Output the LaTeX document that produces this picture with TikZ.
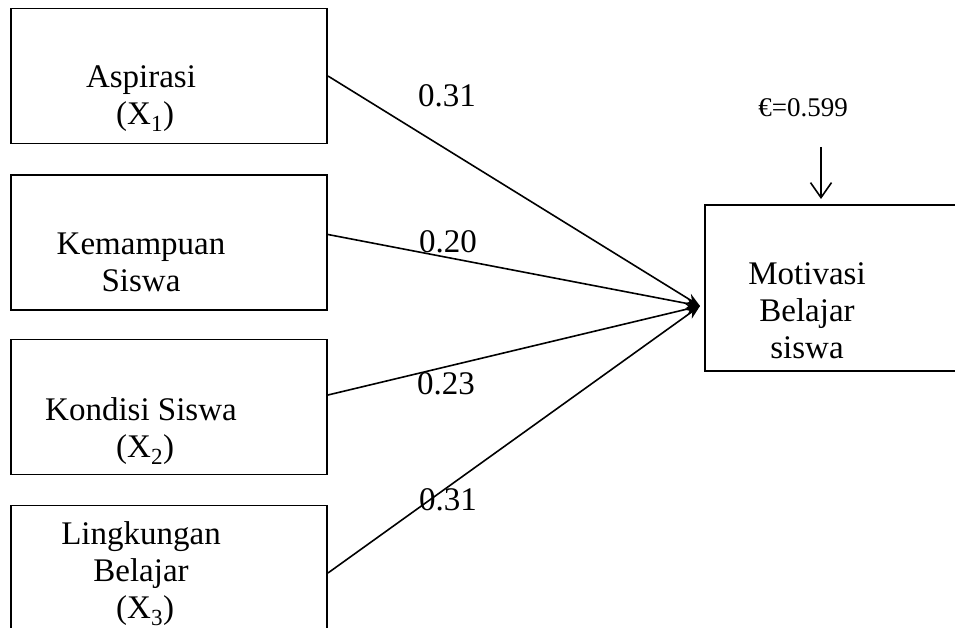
\documentclass[tikz,border=0pt]{standalone}
\usepackage{fontspec}
\setmainfont{Liberation Serif}
\usetikzlibrary{arrows.meta}

\begin{document}
\begin{tikzpicture}[x=1pt, y=-1pt,
        var/.style={draw, line width=1.9pt, minimum width=316pt, minimum height=135pt, inner sep=0pt},
        txt/.style={align=center, inner sep=0pt, font=\fontsize{33}{37}\selectfont},
        coef/.style={inner sep=0pt, font=\fontsize{33}{37}\selectfont},
        link/.style={line width=1.6pt, -{Stealth[length=14pt, width=11pt]}}]
            \useasboundingbox (0, 0) rectangle (955, 628);
            \clip (0, 0) rectangle (955, 628);
            %\draw[lightgray] (0, 0) grid[step=50] (955, 628);
            % boxes
            \node[var] (aspirasi) at (169, 76) {};
            \node[var] (kemampuan) at (169, 242.5) {};
            \node[var] (kondisi) at (169, 407) {};
            \node[var] (lingkungan) at (169, 573) {};
            \node[var, minimum width=290pt, minimum height=166pt] (motivasi) at (850, 288) {};
            % texts
            \node[txt] (aspirasi-t) at (141, 99) {Aspirasi\\ \ (X\textsubscript{1})};
            \node[txt] (kemampuan-t) at (141, 262) {Kemampuan\\Siswa};
            \node[txt] (kondisi-t) at (141, 431) {Kondisi Siswa\\ \ (X\textsubscript{2})};
            \node[txt] (lingkungan-t) at (141, 574) {Lingkungan\\Belajar\\ \ (X\textsubscript{3})};
            \node[txt] (motivasi-t) at (807, 311) {Motivasi\\Belajar\\siswa};
            \node[inner sep=0pt, font=\fontsize{27}{30}\selectfont] (err) at (803, 108) {€=0.599};
            % paths
            \coordinate (hub) at (700, 306);
            \draw[link] (aspirasi.east) -- (hub);
            \draw[link] ([yshift=8pt]kemampuan.east) -- (hub);
            \draw[link] ([yshift=12pt]kondisi.east) -- (hub);
            \draw[link] (lingkungan.east) -- (hub);
            \coordinate (errtop) at (821, 147);
            \coordinate (errtip) at (821, 199);
            \draw[line width=1.6pt, -{Straight Barb[length=15pt, width=21pt]}] (errtop) -- (errtip);
            % coefficients
            \node[coef] (p1) at (447, 96) {0.31};
            \node[coef] (p2) at (448, 242) {0.20};
            \node[coef] (p3) at (446, 384) {0.23};
            \node[coef] (p4) at (448, 500) {0.31};
        \end{tikzpicture}
\end{document}
